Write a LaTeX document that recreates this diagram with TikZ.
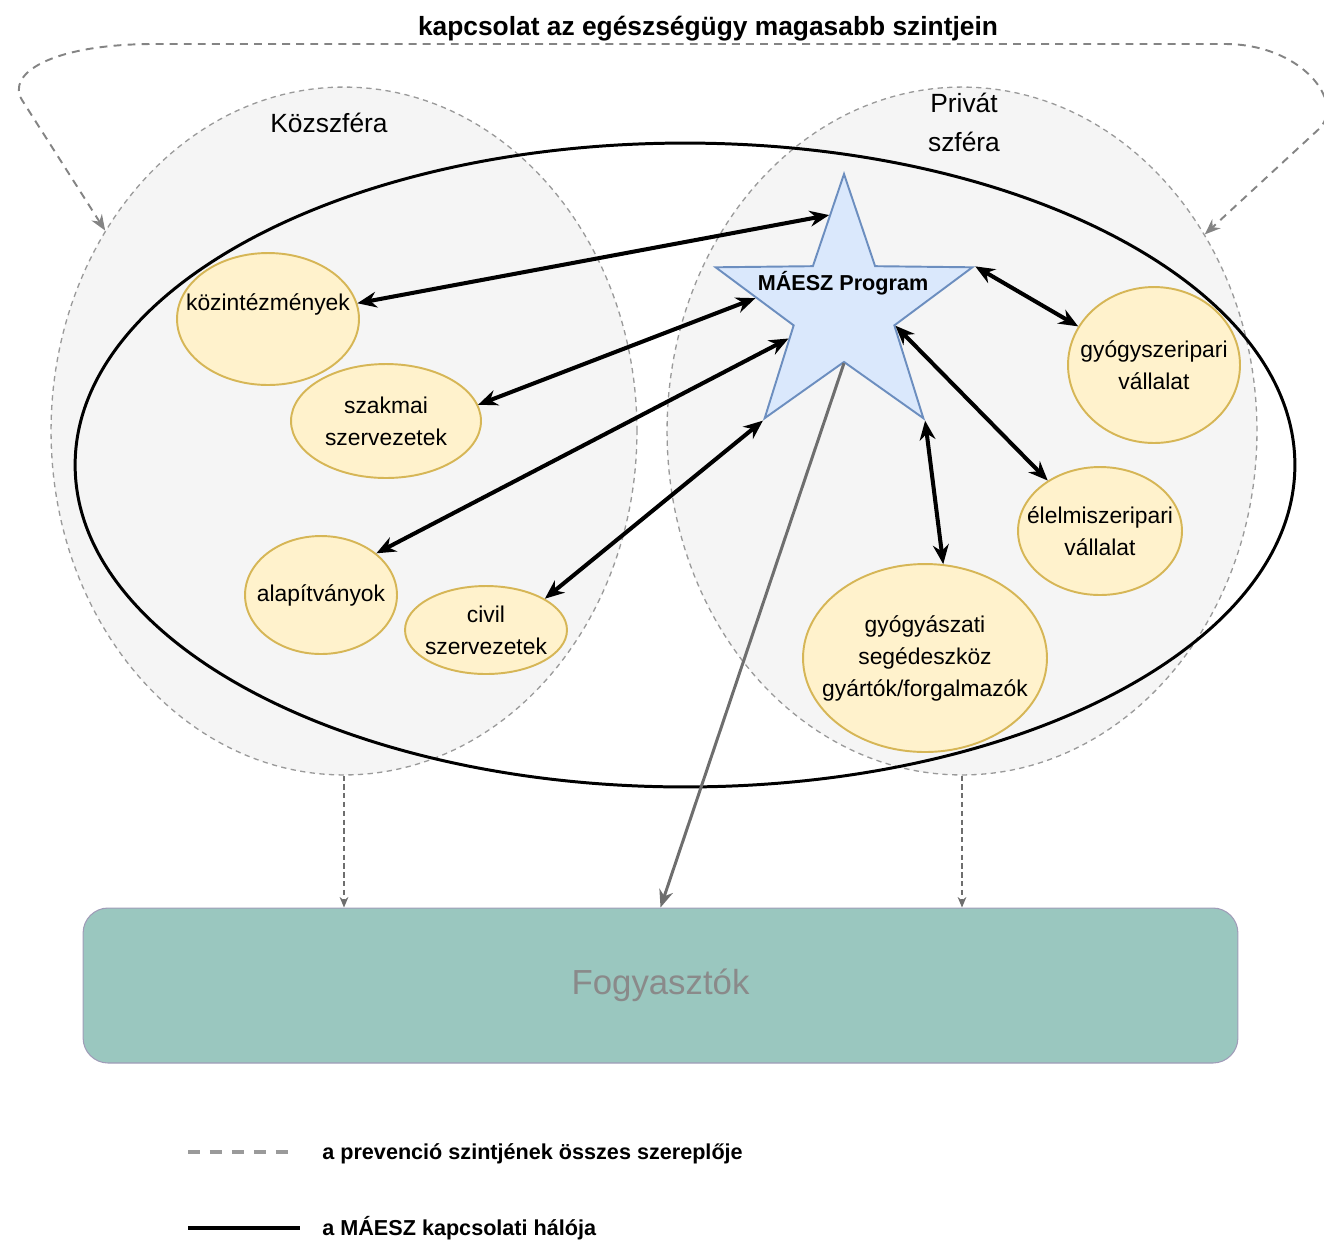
\documentclass[tikz,border=0pt]{standalone}
\usepackage{fontspec}
\setmainfont{Liberation Sans}
\usepackage{xcolor}
\usetikzlibrary{shapes,arrows.meta,positioning,calc}
\definecolor{spherefill}{HTML}{F5F5F5}
\definecolor{sphereline}{HTML}{9A9A9A}
\definecolor{partyfill}{HTML}{FFF2CC}
\definecolor{partyline}{HTML}{D6B656}
\definecolor{starfill}{HTML}{DAE8FC}
\definecolor{starline}{HTML}{6C8EBF}
\definecolor{consumerfill}{HTML}{9AC7BF}
\definecolor{consumerline}{HTML}{A09CB8}
\definecolor{consumertext}{HTML}{8A8A8A}
\definecolor{arrowgray}{HTML}{6E6E6E}

\begin{document}
\begin{tikzpicture}[x=0.02cm, y=-0.02cm,
    sphere/.style={ellipse, draw=sphereline, fill=spherefill, dash pattern=on 3pt off 2.5pt, line width=0.75pt, inner sep=0pt},
    party/.style={ellipse, draw=partyline, fill=partyfill, line width=1.1pt, inner sep=0pt},
    partytext/.style={align=center, font=\fontsize{13}{18.2}\selectfont},
    link/.style={{Stealth[length=11pt,width=9pt]}-{Stealth[length=11pt,width=9pt]}, line width=2.3pt},
    dashlink/.style={-{Stealth[length=6pt,width=5pt]}, draw=arrowgray, dash pattern=on 3pt off 2pt, line width=0.8pt},
    loopdash/.style={{Stealth[length=9pt,width=7pt]}-{Stealth[length=9pt,width=7pt]}, draw=arrowgray!85, dash pattern=on 4.5pt off 3.5pt, line width=1.1pt},
    legtext/.style={font=\bfseries\fontsize{12.3}{15}\selectfont}]
  \useasboundingbox (0,0) rectangle (1324,1242);

  \node[font=\bfseries\fontsize{15}{18}\selectfont, anchor=base] (title) at (708,35) {kapcsolat az egészségügy magasabb szintjein};

  \node[sphere, minimum width=11.72cm, minimum height=13.76cm] (kozszfera) at (344,431) {};
  \node[sphere, minimum width=11.8cm, minimum height=13.76cm] (privat) at (962,431) {};
  \node[font=\fontsize{15}{21}\selectfont, anchor=base] (kozlbl) at (329,132) {Közszféra};
  \node[align=center, font=\fontsize{15}{22.2}\selectfont] (privlbl) at (964,122) {Privát\\szféra};

  \node[ellipse, draw, line width=1.7pt, minimum width=24.4cm, minimum height=12.88cm, inner sep=0pt] (network) at (685,465) {};

  \node[party, minimum width=3.64cm, minimum height=2.64cm, label={[partytext, yshift=0.3cm]center:közintézmények}] (kozint) at (268,319) {};
  \node[party, minimum width=3.8cm, minimum height=2.28cm, label={[partytext]center:szakmai\\szervezetek}] (szakmai) at (386,421) {};
  \node[party, minimum width=3.04cm, minimum height=2.36cm, label={[partytext]center:alapítványok}] (alap) at (321,595) {};
  \node[party, minimum width=3.24cm, minimum height=1.76cm, label={[partytext]center:civil\\szervezetek}] (civil) at (486,630) {};
  \node[party, minimum width=3.44cm, minimum height=3.12cm, label={[partytext]center:gyógyszeripari\\vállalat}] (gyogysz) at (1154,365) {};
  \node[party, minimum width=3.28cm, minimum height=2.56cm, label={[partytext]center:élelmiszeripari\\vállalat}] (elelm) at (1100,531) {};
  \node[party, minimum width=4.88cm, minimum height=3.76cm, label={[partytext]center:gyógyászati\\segédeszköz\\gyártók/forgalmazók}] (segedeszk) at (925,658) {};

  \node[star, star points=5, star point ratio=2.55, minimum size=5.4cm, inner sep=0pt, draw=starline, fill=starfill, line width=1.1pt] (maesz) at (844,309) {};
  \node[font=\bfseries\fontsize{12.3}{15}\selectfont, anchor=base] (maeszlbl) at (843,290) {MÁESZ Program};

  \node[rectangle, rounded corners=0.5cm, draw=consumerline, fill=consumerfill, line width=0.6pt, minimum width=23.1cm, minimum height=3.1cm, text=consumertext, font=\fontsize{19.8}{24}\selectfont] (fogy) at (660.5,985.5) {Fogyasztók};

  \draw[link] (maesz.99) -- (kozint.10);
  \draw[link] (maesz.173) -- (szakmai.10);
  \draw[link] (maesz.208) -- (alap.37);
  \draw[link] (maesz.outer point 3) -- (civil.28);
  \draw[link] (maesz.outer point 5) -- (gyogysz.153);
  \draw[link] (maesz.inner point 4) -- (elelm.136);
  \draw[link] (maesz.outer point 4) -- (segedeszk.79);
  \draw[-{Stealth[length=10pt,width=8pt]}, draw=arrowgray, line width=1.7pt] (maesz.inner point 3) -- (fogy.north);

  \draw[dashlink] (kozszfera.south) -- (kozszfera.south |- fogy.north);
  \draw[dashlink] (privat.south) -- (privat.south |- fogy.north);
  \draw[loopdash] (kozszfera.140) -- (22,100) .. controls (6,74) and (50,45) .. (150,44) -- (1225,44) .. controls (1300,44) and (1345,100) .. (1320,128) -- (privat.39);

  \draw[draw=sphereline, line width=2.3pt, dash pattern=on 6.8pt off 5.7pt] (188,1152) -- (290,1152);
  \node[legtext, anchor=base west, inner sep=0pt] (legprev) at (322,1159) {a prevenció szintjének összes szereplője};
  \draw[line width=2.8pt] (188,1228) -- (300,1228);
  \node[legtext, anchor=base west, inner sep=0pt] (legnet) at (322,1235) {a MÁESZ kapcsolati hálója};
\end{tikzpicture}
\end{document}
